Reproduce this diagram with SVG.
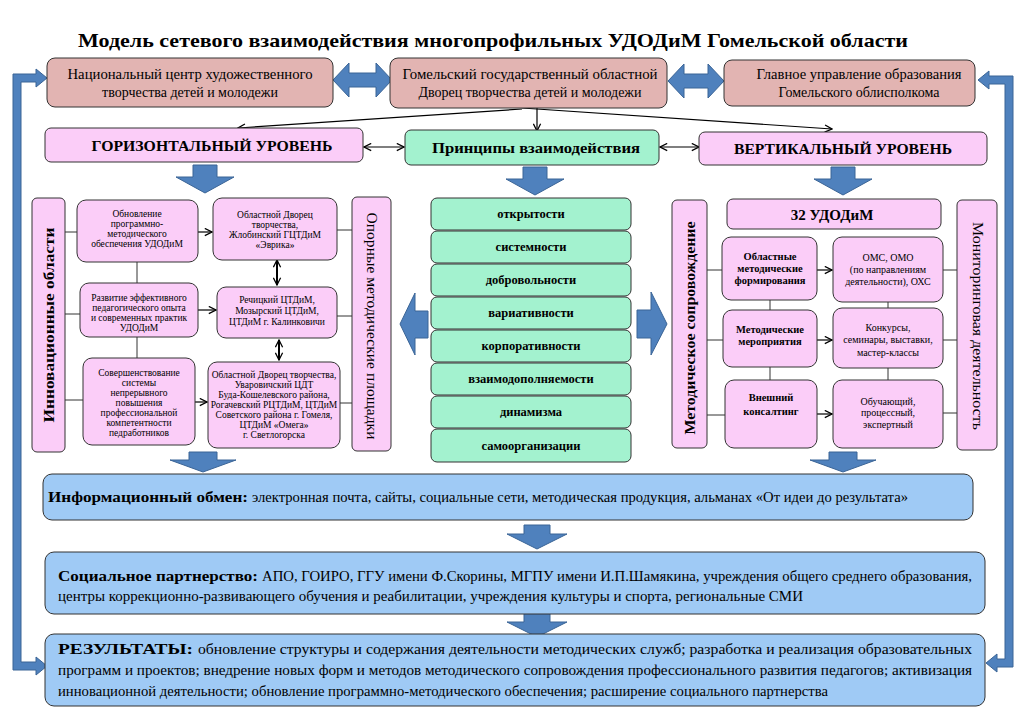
<svg xmlns="http://www.w3.org/2000/svg" width="1024" height="724" viewBox="0 0 1024 724" font-family="'Liberation Serif', 'DejaVu Serif', 'Times New Roman', serif">
<style>
text{font-family:'Liberation Serif','DejaVu Serif','Times New Roman',serif;fill:#000}
.b{font-weight:bold}
.rose{fill:#e2b4b2;stroke:#333;stroke-width:1}
.pink{fill:#fbcdf8;stroke:#333;stroke-width:1}
.green{fill:#a3f2cf;stroke:#333;stroke-width:1}
.blue{fill:#9fcaf5;stroke:#333;stroke-width:1}
.barrow{fill:#4f81bd;stroke:#3a6496;stroke-width:1}
.ln{stroke:#333;stroke-width:1;fill:none}
.ar{stroke:#000;stroke-width:1.2;fill:none}
.ar2{stroke:#000;stroke-width:2;fill:none}
.s9{font-size:9.5px}
.c{text-anchor:middle}
</style>
<defs>
<marker id="ah" viewBox="0 0 10 10" refX="9" refY="5" markerWidth="9" markerHeight="9" markerUnits="userSpaceOnUse" orient="auto-start-reverse">
<path d="M1,1 L9,5 L1,9" stroke="#000" stroke-width="1.4" fill="none"/>
</marker>
<path id="dA" d="M -12 0 H 12 V 12 H 29 L 0 28 L -29 12 H -12 Z"/>
<path id="dB" d="M -14 0 H 14 V 8 H 33 L 0 20 L -33 8 H -14 Z"/>
<path id="dC" d="M -13 0 H 13 V 9 H 30 L 0 24 L -30 9 H -13 Z"/>
</defs>
<rect width="1024" height="724" fill="#fff"/>

<text class="b" x="493" y="47" font-size="19" text-anchor="middle" textLength="830" lengthAdjust="spacingAndGlyphs">Модель сетевого взаимодействия многопрофильных УДОДиМ Гомельской области</text>

<g id="connectors">
<path class="barrow" d="M 13 74 H 36 V 69 L 47 78 L 36 87 V 82 H 21 V 662 H 36 V 657 L 47 666 L 36 675 V 670 H 13 Z"/>
<path class="barrow" d="M 1013 76 V 667 H 997 V 672 L 986 663 L 997 654 V 659 H 1005 V 84 H 989 V 89 L 978 80 L 989 71 V 76 Z"/>
<path class="barrow" d="M 333 80 L 349 63 V 73 H 376 V 63 L 392 80 L 376 97 V 87 H 349 V 97 Z"/>
<path class="barrow" d="M 668 81 L 684 64 V 74 H 708 V 64 L 724 81 L 708 98 V 88 H 684 V 98 Z"/>
<line class="ar" x1="537" y1="108" x2="537" y2="131" marker-end="url(#ah)"/>
<line class="ar" x1="522" y1="109" x2="238" y2="128" marker-end="url(#ah)"/>
<line class="ar" x1="522" y1="108" x2="832" y2="129" marker-end="url(#ah)"/>
<line class="ar" x1="364" y1="147" x2="404" y2="147" marker-start="url(#ah)" marker-end="url(#ah)"/>
<line class="ar" x1="660" y1="147" x2="699" y2="147" marker-start="url(#ah)" marker-end="url(#ah)"/>
<use href="#dA" class="barrow" x="205" y="165"/>
<use href="#dA" class="barrow" x="535" y="167"/>
<use href="#dA" class="barrow" x="843" y="167"/>
<path class="barrow" d="M 400 324 L 415 293 V 311 H 428 V 338 H 415 V 355 Z"/>
<path class="barrow" d="M 667 324 L 651 292 V 310 H 637 V 338 H 651 V 355 Z"/>
<line class="ln" x1="65" y1="232" x2="77" y2="232"/>
<line class="ln" x1="65" y1="314" x2="80" y2="314"/>
<line class="ln" x1="65" y1="400" x2="83" y2="400"/>
<line class="ln" x1="137" y1="262" x2="137" y2="283"/>
<line class="ln" x1="137" y1="337" x2="137" y2="358"/>
<line class="ar" x1="198" y1="232" x2="212" y2="232" marker-end="url(#ah)"/>
<line class="ar" x1="198" y1="310" x2="216" y2="310" marker-end="url(#ah)"/>
<line class="ar" x1="195" y1="402" x2="207" y2="402" marker-end="url(#ah)"/>
<line class="ar2" x1="277" y1="260" x2="277" y2="285" marker-start="url(#ah)" marker-end="url(#ah)"/>
<line class="ar2" x1="279" y1="340" x2="279" y2="360" marker-start="url(#ah)" marker-end="url(#ah)"/>
<line class="ln" x1="337" y1="230" x2="352" y2="230"/>
<line class="ln" x1="337" y1="316" x2="352" y2="316"/>
<line class="ln" x1="340" y1="403" x2="352" y2="403"/>
<line class="ln" x1="707" y1="270" x2="722" y2="270"/>
<line class="ln" x1="707" y1="340" x2="723" y2="340"/>
<line class="ln" x1="707" y1="415" x2="725" y2="415"/>
<line class="ln" x1="770" y1="300" x2="770" y2="310"/>
<line class="ln" x1="770" y1="367" x2="770" y2="380"/>
<line class="ar" x1="817" y1="270" x2="832" y2="270" marker-end="url(#ah)"/>
<line class="ar" x1="817" y1="340" x2="832" y2="340" marker-end="url(#ah)"/>
<line class="ar" x1="817" y1="414" x2="832" y2="414" marker-end="url(#ah)"/>
<line class="ln" x1="888" y1="302" x2="888" y2="308"/>
<line class="ln" x1="888" y1="368" x2="888" y2="380"/>
<line class="ln" x1="943" y1="270" x2="957" y2="270"/>
<line class="ln" x1="943" y1="340" x2="957" y2="340"/>
<line class="ln" x1="943" y1="413" x2="957" y2="413"/>
<use href="#dB" class="barrow" x="203" y="452"/>
<use href="#dB" class="barrow" x="843" y="452"/>
<use href="#dC" class="barrow" x="537" y="525"/>
<use href="#dC" class="barrow" x="537" y="613"/>
</g>

<g id="n-ncentr">
<rect class="rose" x="47" y="58" width="286" height="49" rx="8"/>
<text class="c" x="190" y="79" font-size="14" textLength="245" lengthAdjust="spacingAndGlyphs">Национальный центр художественного</text>
<text class="c" x="190" y="97" font-size="14">творчества детей и молодежи</text>
</g>
<g id="n-dvorec">
<rect class="rose" x="390" y="58" width="277" height="50" rx="8"/>
<text class="c" x="530" y="79" font-size="14" textLength="255" lengthAdjust="spacingAndGlyphs">Гомельский государственный областной</text>
<text class="c" x="530" y="97" font-size="14">Дворец творчества детей и молодежи</text>
</g>
<g id="n-upr">
<rect class="rose" x="724" y="60" width="251" height="46" rx="8"/>
<text class="c" x="859" y="79" font-size="14" textLength="205" lengthAdjust="spacingAndGlyphs">Главное управление образования</text>
<text class="c" x="859" y="97" font-size="14">Гомельского облисполкома</text>
</g>

<g id="n-horiz">
<rect class="pink" x="45" y="128" width="318" height="34" rx="6"/>
<text class="b c" x="212" y="151" font-size="15" textLength="241" lengthAdjust="spacingAndGlyphs">ГОРИЗОНТАЛЬНЫЙ УРОВЕНЬ</text>
</g>
<g id="n-princ">
<rect class="green" x="405" y="130" width="254" height="35" rx="6"/>
<text class="b c" x="536" y="153" font-size="14" textLength="208" lengthAdjust="spacingAndGlyphs">Принципы взаимодействия</text>
</g>
<g id="n-vert">
<rect class="pink" x="699" y="132" width="288" height="33" rx="6"/>
<text class="b c" x="843" y="154" font-size="15" textLength="218" lengthAdjust="spacingAndGlyphs">ВЕРТИКАЛЬНЫЙ УРОВЕНЬ</text>
</g>

<g id="n-innov">
<rect class="pink" x="32" y="198" width="33" height="254" rx="5"/>
<text class="b c" transform="translate(49 325) rotate(-90)" dominant-baseline="central" font-size="15" textLength="195" lengthAdjust="spacingAndGlyphs">Инновационные области</text>
</g>
<g id="n-b1">
<rect class="pink" x="77" y="200" width="121" height="62" rx="9"/>
<text class="c s9" x="137" y="217">Обновление</text>
<text class="c s9" x="137" y="227">программно-</text>
<text class="c s9" x="137" y="237">методического</text>
<text class="c s9" x="137" y="247">обеспечения УДОДиМ</text>
</g>
<g id="n-b2">
<rect class="pink" x="80" y="283" width="118" height="54" rx="9"/>
<text class="c s9" x="139" y="301">Развитие эффективного</text>
<text class="c s9" x="139" y="311">педагогического опыта</text>
<text class="c s9" x="139" y="321">и современных практик</text>
<text class="c s9" x="139" y="331">УДОДиМ</text>
</g>
<g id="n-b3">
<rect class="pink" x="83" y="358" width="112" height="87" rx="9"/>
<text class="c s9" x="139" y="376">Совершенствование</text>
<text class="c s9" x="139" y="386">системы</text>
<text class="c s9" x="139" y="396">непрерывного</text>
<text class="c s9" x="139" y="406">повышения</text>
<text class="c s9" x="139" y="416">профессиональной</text>
<text class="c s9" x="139" y="426">компетентности</text>
<text class="c s9" x="139" y="436">педработников</text>
</g>
<g id="n-c1">
<rect class="pink" x="213" y="198" width="124" height="62" rx="9"/>
<text class="c s9" x="275" y="218">Областной Дворец</text>
<text class="c s9" x="275" y="228">творчества,</text>
<text class="c s9" x="275" y="238">Жлобинский ГЦТДиМ</text>
<text class="c s9" x="275" y="248">«Эврика»</text>
</g>
<g id="n-c2">
<rect class="pink" x="217" y="287" width="120" height="51" rx="9"/>
<text class="c s9" x="277" y="303">Речицкий ЦТДиМ,</text>
<text class="c s9" x="277" y="314">Мозырский ЦТДиМ,</text>
<text class="c s9" x="277" y="325">ЦТДиМ г. Калинковичи</text>
</g>
<g id="n-c3">
<rect class="pink" x="208" y="362" width="132" height="86" rx="9"/>
<text class="c s9" x="274" y="378">Областной Дворец творчества,</text>
<text class="c s9" x="274" y="388">Уваровичский ЦДТ</text>
<text class="c s9" x="274" y="398">Буда-Кошелевского района,</text>
<text class="c s9" x="274" y="408">Рогачевский РЦТДиМ, ЦТДиМ</text>
<text class="c s9" x="274" y="418">Советского района г. Гомеля,</text>
<text class="c s9" x="274" y="428">ЦТДиМ «Омега»</text>
<text class="c s9" x="274" y="438">г. Светлогорска</text>
</g>
<g id="n-opor">
<rect class="pink" x="352" y="197" width="39" height="254" rx="5"/>
<text class="c" transform="translate(372 326) rotate(90)" dominant-baseline="central" font-size="15" textLength="227" lengthAdjust="spacingAndGlyphs">Опорные методические площадки</text>
</g>

<g id="n-p1"><rect class="green" x="431" y="198" width="200" height="32" rx="6"/><text class="b c" x="531" y="218" font-size="12.5">открытости</text></g>
<g id="n-p2"><rect class="green" x="431" y="231" width="200" height="32" rx="6"/><text class="b c" x="531" y="251" font-size="12.5">системности</text></g>
<g id="n-p3"><rect class="green" x="431" y="264" width="200" height="32" rx="6"/><text class="b c" x="531" y="284" font-size="12.5">добровольности</text></g>
<g id="n-p4"><rect class="green" x="431" y="297" width="200" height="32" rx="6"/><text class="b c" x="531" y="317" font-size="12.5">вариативности</text></g>
<g id="n-p5"><rect class="green" x="431" y="330" width="200" height="32" rx="6"/><text class="b c" x="531" y="350" font-size="12.5">корпоративности</text></g>
<g id="n-p6"><rect class="green" x="431" y="363" width="200" height="32" rx="6"/><text class="b c" x="531" y="383" font-size="12.5">взаимодополняемости</text></g>
<g id="n-p7"><rect class="green" x="431" y="396" width="200" height="32" rx="6"/><text class="b c" x="531" y="416" font-size="12.5">динамизма</text></g>
<g id="n-p8"><rect class="green" x="431" y="429" width="200" height="33" rx="6"/><text class="b c" x="531" y="450" font-size="12.5">самоорганизации</text></g>

<g id="n-metsop">
<rect class="pink" x="672" y="200" width="35" height="248" rx="5"/>
<text class="b c" transform="translate(690 328) rotate(-90)" dominant-baseline="central" font-size="14" textLength="213" lengthAdjust="spacingAndGlyphs">Методическое сопровождение</text>
</g>
<g id="n-32">
<rect class="pink" x="727" y="199" width="214" height="30" rx="6"/>
<text class="b c" x="832" y="220" font-size="15">32 УДОДиМ</text>
</g>
<g id="n-d1">
<rect class="pink" x="722" y="237" width="95" height="63" rx="9"/>
<text class="b c" x="770" y="260" font-size="10.5">Областные</text>
<text class="b c" x="770" y="272" font-size="10.5">методические</text>
<text class="b c" x="770" y="284" font-size="10.5">формирования</text>
</g>
<g id="n-d2">
<rect class="pink" x="723" y="310" width="94" height="57" rx="9"/>
<text class="b c" x="770" y="333" font-size="10.5">Методические</text>
<text class="b c" x="770" y="345" font-size="10.5">мероприятия</text>
</g>
<g id="n-d3">
<rect class="pink" x="725" y="380" width="92" height="68" rx="9"/>
<text class="b c" x="771" y="401" font-size="10.5">Внешний</text>
<text class="b c" x="771" y="415" font-size="10.5">консалтинг</text>
</g>
<g id="n-e1">
<rect class="pink" x="833" y="237" width="110" height="65" rx="9"/>
<text class="c" x="888" y="261" font-size="10">ОМС, ОМО</text>
<text class="c" x="888" y="273" font-size="10">(по направлениям</text>
<text class="c" x="888" y="285" font-size="10">деятельности), ОХС</text>
</g>
<g id="n-e2">
<rect class="pink" x="833" y="308" width="110" height="60" rx="9"/>
<text class="c" x="888" y="331" font-size="10">Конкурсы,</text>
<text class="c" x="888" y="343" font-size="10">семинары, выставки,</text>
<text class="c" x="888" y="356" font-size="10">мастер-классы</text>
</g>
<g id="n-e3">
<rect class="pink" x="833" y="380" width="110" height="68" rx="9"/>
<text class="c" x="888" y="405" font-size="10">Обучающий,</text>
<text class="c" x="888" y="416" font-size="10">процессный,</text>
<text class="c" x="888" y="428" font-size="10">экспертный</text>
</g>
<g id="n-monit">
<rect class="pink" x="957" y="200" width="40" height="250" rx="5"/>
<text class="c" transform="translate(977 326) rotate(90)" dominant-baseline="central" font-size="14" textLength="208" lengthAdjust="spacingAndGlyphs">Мониторинговая деятельность</text>
</g>

<g id="n-info">
<rect class="blue" x="43" y="474" width="930" height="46" rx="9"/>
<text class="b" x="48" y="502" font-size="14" textLength="200" lengthAdjust="spacingAndGlyphs">Информационный обмен:</text>
<text x="252" y="502" font-size="14" textLength="656" lengthAdjust="spacingAndGlyphs">электронная почта, сайты, социальные сети, методическая продукция, альманах «От идеи до результата»</text>
</g>
<g id="n-soc">
<rect class="blue" x="45" y="552" width="940" height="62" rx="9"/>
<text class="b" x="58" y="581" font-size="14" textLength="200" lengthAdjust="spacingAndGlyphs">Социальное партнерство:</text>
<text x="262" y="581" font-size="14" textLength="710" lengthAdjust="spacingAndGlyphs">АПО, ГОИРО, ГГУ имени Ф.Скорины, МГПУ имени И.П.Шамякина, учреждения общего среднего образования,</text>
<text x="58" y="601" font-size="14" textLength="745" lengthAdjust="spacingAndGlyphs">центры коррекционно-развивающего обучения и реабилитации, учреждения культуры и спорта, региональные СМИ</text>
</g>
<g id="n-res">
<rect class="blue" x="45" y="634" width="940" height="72" rx="9"/>
<text class="b" x="58" y="654" font-size="14" textLength="135" lengthAdjust="spacingAndGlyphs">РЕЗУЛЬТАТЫ:</text>
<text x="198" y="654" font-size="14" textLength="774" lengthAdjust="spacingAndGlyphs">обновление структуры и содержания деятельности методических служб; разработка и реализация образовательных</text>
<text x="58" y="675" font-size="14" textLength="914" lengthAdjust="spacingAndGlyphs">программ и проектов; внедрение новых форм и методов методического сопровождения профессионального развития педагогов; активизация</text>
<text x="58" y="696" font-size="14" textLength="770" lengthAdjust="spacingAndGlyphs">инновационной деятельности; обновление программно-методического обеспечения; расширение социального партнерства</text>
</g>
</svg>
